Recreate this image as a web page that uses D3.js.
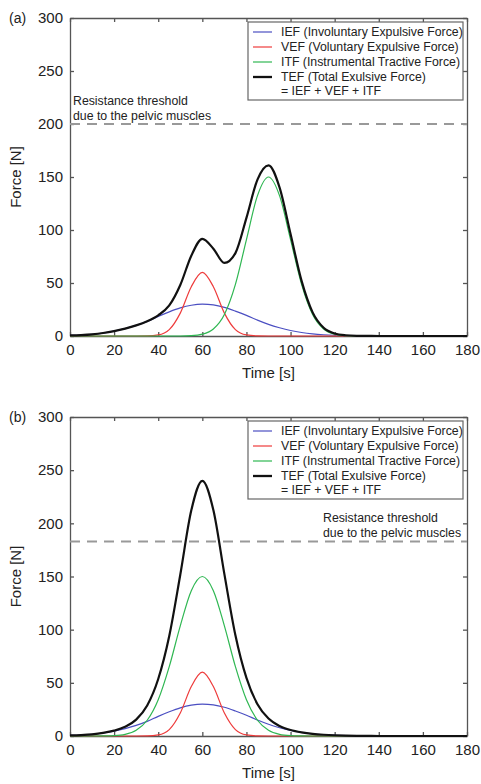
<!DOCTYPE html>
<html><head><meta charset="utf-8">
<script src="https://cdn.jsdelivr.net/npm/d3@7"></script>
<style>body{margin:0;background:#fff}svg{display:block}text{font-family:"Liberation Sans",Arial,sans-serif;fill:#222}</style>
</head><body><svg id="c" width="481" height="784"></svg>
<script>
const time = [0,5,10,15,20,25,30,35,40,45,50,55,60,65,70,75,80,85,90,95,100,105,110,115,120,125,130,135,140,145,150,155,160,165,170,175,180];
// Panel (a)
const iefA = [0.5,0.9,1.6,2.8,4.6,7,10,13.8,18.5,22.8,26.5,29,30,29.3,27,23.5,19.5,15,11,7.8,5.2,3.3,2,1.2,0.7,0.4,0.2,0.1,0,0,0,0,0,0,0,0,0];
const vefA = [0,0,0,0,0,0,0,0.1,1,6,21.6,46.5,60,46.5,21.6,6,1,0.1,0,0,0,0,0,0,0,0,0,0,0,0,0,0,0,0,0,0,0];
const itfA = [0,0,0,0,0,0,0,0,0,0,0,0.3,1.7,6.6,20.3,48.7,91,132.4,150,132.4,91,48.7,20.3,6.6,1.7,0.3,0,0,0,0,0,0,0,0,0,0,0];
const tefA = [0.5,0.9,1.6,2.8,4.6,7,10,13.9,19.5,28.8,48.1,75.8,91.7,82.4,68.9,78.2,111.5,147.5,161,140.2,96.2,52,22.3,7.8,2.4,0.7,0.2,0.1,0,0,0,0,0,0,0,0,0];
const thresholdA = 200;
// Panel (b)
const iefB = [0.5,0.9,1.6,2.8,4.6,7,10,13.8,18.5,22.8,26.5,29,30,29.3,27,23.5,19.5,15,11,7.8,5.2,3.3,2,1.2,0.7,0.4,0.2,0.1,0,0,0,0,0,0,0,0,0];
const vefB = [0,0,0,0,0,0,0,0.1,1,6,21.6,46.5,60,46.5,21.6,6,1,0.1,0,0,0,0,0,0,0,0,0,0,0,0,0,0,0,0,0,0,0];
const itfB = [0,0,0,0.1,0.4,1.6,5.4,14.8,34.1,65.2,103.6,136.7,150,136.7,103.6,65.2,34.1,14.8,5.4,1.6,0.4,0.1,0,0,0,0,0,0,0,0,0,0,0,0,0,0,0];
const tefB = [0.5,0.9,1.6,2.9,5,8.6,15.4,28.7,53.6,94,151.7,212.2,240,212.5,152.2,94.7,54.6,29.9,16.4,9.4,5.6,3.4,2,1.2,0.7,0.4,0.2,0.1,0,0,0,0,0,0,0,0,0];
const thresholdB = 183;

const xTicks = [0,20,40,60,80,100,120,140,160,180];
const yTicks = [0,50,100,150,200,250,300];
const legendLabels = ["IEF (Involuntary Expulsive Force)","VEF (Voluntary Expulsive Force)","ITF (Instrumental Tractive Force)","TEF (Total Exulsive Force)"];
const legendExtra = "= IEF + VEF + ITF";
const thresholdText = ["Resistance threshold","due to the pelvic muscles"];
const colors = ["#4b4fc2","#ee3b3b","#2fb752","#111"];

const svg = d3.select("#c");

function panel(opt){
  const L=70,R=467,T=opt.top,B=opt.bottom;
  const x=d3.scaleLinear().domain([0,180]).range([L,R]);
  const y=d3.scaleLinear().domain([0,300]).range([B,T]);
  const g=svg.append("g");
  const axCol="#555";
  const bottom=g.append("g").attr("transform",`translate(0,${B})`).call(d3.axisBottom(x).tickValues(xTicks).tickSizeInner(-4).tickSizeOuter(0).tickPadding(8));
  const left=g.append("g").attr("transform",`translate(${L},0)`).call(d3.axisLeft(y).tickValues(yTicks).tickSizeInner(-4).tickSizeOuter(0).tickPadding(7));
  const top=g.append("g").attr("transform",`translate(0,${T})`).call(d3.axisTop(x).tickValues(xTicks).tickSizeInner(-4).tickSizeOuter(0).tickFormat(""));
  const right=g.append("g").attr("transform",`translate(${R},0)`).call(d3.axisRight(y).tickValues(yTicks).tickSizeInner(-4).tickSizeOuter(0).tickFormat(""));
  [bottom,left,top,right].forEach(a=>{a.selectAll("path,line").attr("stroke",axCol).attr("stroke-width",1.3);a.selectAll("text").style("font-size","15px").style("font-family","Liberation Sans, Arial, sans-serif").attr("fill","#222");});
  g.append("line").attr("x1",x(0)).attr("x2",x(180)).attr("y1",y(opt.thr)).attr("y2",y(opt.thr)).attr("stroke","#999").attr("stroke-width",2).attr("stroke-dasharray","10,7");
  const tt=g.append("g");
  thresholdText.forEach((t,i)=>{
    tt.append("text").attr("x",opt.thrX).attr("y",y(opt.thr)+opt.thrDy+i*14.5).attr("text-anchor","start").style("font-size","12.3px").attr("fill","#333").text(t);
  });
  const series=[opt.ief,opt.vef,opt.itf,opt.tef];
  const line=d3.line().x((d,i)=>x(time[i])).y(d=>y(d)).curve(d3.curveMonotoneX);
  series.forEach((s,k)=>{
    g.append("path").datum(s).attr("d",line).attr("fill","none").attr("stroke",colors[k]).attr("stroke-width",k===3?2.2:1.2);
  });
  const lx=248,lw=215,ly=opt.legTop,lh=78;
  g.append("rect").attr("x",lx).attr("y",ly).attr("width",lw).attr("height",lh).attr("fill","#fff").attr("stroke","#666").attr("stroke-width",1.2);
  legendLabels.forEach((t,i)=>{
    const yy=ly+10+i*15;
    g.append("line").attr("x1",lx+5).attr("x2",lx+24).attr("y1",yy).attr("y2",yy).attr("stroke",colors[i]).attr("stroke-width",i===3?2.3:1.2);
    g.append("text").attr("x",lx+33).attr("y",yy+4.3).style("font-size","12.3px").attr("fill","#333").text(t);
  });
  g.append("text").attr("x",lx+33).attr("y",ly+10+4*15-1+4.3).style("font-size","12.3px").attr("fill","#333").text(legendExtra);
  g.append("text").attr("transform",`translate(21,${(T+B)/2}) rotate(-90)`).attr("text-anchor","middle").style("font-size","15px").text("Force [N]");
  g.append("text").attr("x",(L+R)/2).attr("y",B+42).attr("text-anchor","middle").style("font-size","15px").text("Time [s]");
  g.append("text").attr("x",9).attr("y",T+5).style("font-size","14px").attr("fill","#333").text(opt.label);
}

panel({top:18,bottom:336,ief:iefA,vef:vefA,itf:itfA,tef:tefA,thr:thresholdA,thrX:73,thrDy:-19,legTop:22,label:"(a)"});
panel({top:417,bottom:736,ief:iefB,vef:vefB,itf:itfB,tef:tefB,thr:thresholdB,thrX:323,thrDy:-19,legTop:421,label:"(b)"});
</script></body></html>
